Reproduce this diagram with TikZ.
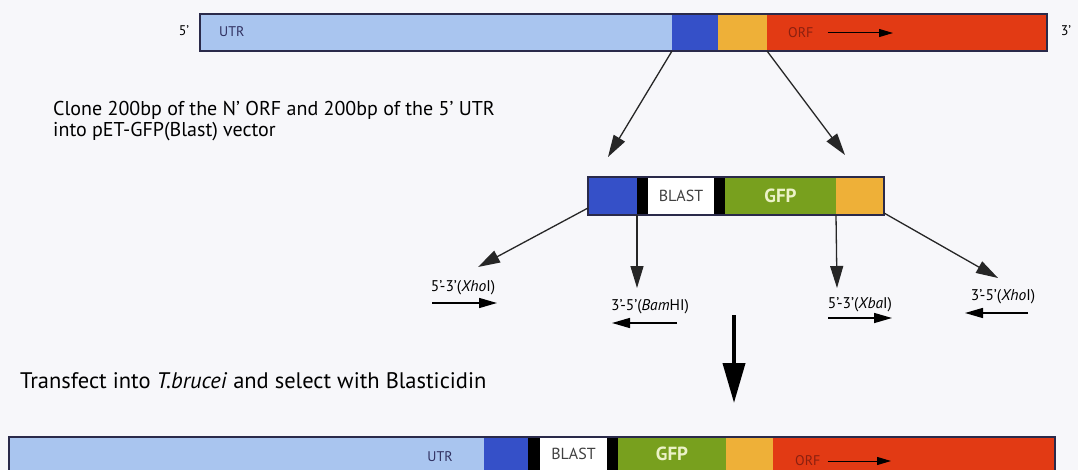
\documentclass[tikz,border=0pt]{standalone}
\usepackage{fontspec}
\setmainfont{PT Sans}
\usetikzlibrary{arrows.meta,calc}
\definecolor{bgc}{HTML}{F7F7FA}
\definecolor{lb}{HTML}{A9C5EF}
\definecolor{db}{HTML}{3550C8}
\definecolor{org}{HTML}{EEB038}
\definecolor{rd}{HTML}{E23A14}
\definecolor{grn}{HTML}{78A01E}
\definecolor{brd}{HTML}{2A2A4A}
\definecolor{gfpt}{HTML}{ECF2C8}
\definecolor{navy}{HTML}{303060}
\definecolor{ornt}{HTML}{8A2010}
\begin{document}
\begin{tikzpicture}[x=1pt,y=-1pt,
  seg/.style={anchor=north west, inner sep=0pt, outer sep=0pt},
  barborder/.style={draw=brd, line width=1.2pt},
  lbl/.style={inner sep=0pt, font=\fontsize{14}{16}\selectfont},
  thinarrow/.style={line width=1.3pt, draw=black!85, -{Triangle[length=22pt,width=13pt]}},
  primer/.style={line width=1.5pt, -{Triangle[length=18pt,width=10pt]}},
  primerlbl/.style={inner sep=0pt, font=\fontsize{15.5}{18}\selectfont},
  bigarrow/.style={line width=4pt, -{Triangle[length=40pt,width=22pt]}},
  note/.style={inner sep=0pt, anchor=west, align=left}]
\useasboundingbox (0,0) rectangle (1078,470);
\fill[bgc] (0,0) rectangle (1078,470);

% ---------- top bar ----------
\node[seg, fill=lb,  minimum width=472pt, minimum height=37pt] (utrT) at (200,14) {};
\node[seg, fill=db,  minimum width=46pt,  minimum height=37pt] (blueT) at (672,14) {};
\node[seg, fill=org, minimum width=49pt,  minimum height=37pt] (orgT) at (718,14) {};
\node[seg, fill=rd,  minimum width=280pt, minimum height=37pt] (redT) at (767,14) {};
\draw[barborder] (utrT.north west) rectangle (redT.south east);
\node[lbl, text=navy, anchor=west] (utrTl) at (219,32) {UTR};
\node[lbl, text=ornt, anchor=west] (orfTl) at (788,33) {ORF};
\coordinate (orfTa) at (893,33);
\draw[line width=1pt, -{Triangle[length=14pt,width=8pt]}] (orfTl.east)++(14,0) -- (orfTa);
\node[lbl] (p5) at (184,31) {5'};
\node[lbl] (p3) at (1066,31) {3'};

% ---------- note 1 ----------
\node[note, font=\fontsize{20}{21}\selectfont] (note1) at (53,121) {Clone 200bp of the N' ORF and 200bp of the 5' UTR\\into pET-GFP(Blast) vector};

% ---------- middle construct ----------
\node[seg, fill=db,    minimum width=49pt,  minimum height=38pt] (blueM) at (588,177) {};
\node[seg, fill=black, minimum width=11pt,  minimum height=38pt] (k1M) at (637,177) {};
\node[seg, fill=white, minimum width=66pt,  minimum height=38pt, font=\fontsize{16}{18}\selectfont, text=black!75] (blastM) at (648,177) {BLAST};
\node[seg, fill=black, minimum width=11pt,  minimum height=38pt] (k2M) at (714,177) {};
\node[seg, fill=grn,   minimum width=111pt, minimum height=38pt, font=\bfseries\fontsize{19}{21}\selectfont, text=gfpt] (gfpM) at (725,177) {GFP};
\node[seg, fill=org,   minimum width=48pt,  minimum height=38pt] (orgM) at (836,177) {};
\draw[barborder] (blueM.north west) rectangle (orgM.south east);

% arrows from top bar to construct
\coordinate (a1e) at (608,157);
\coordinate (a2e) at (845,155);
\draw[thinarrow] (blueT.south west) -- (a1e);
\draw[thinarrow] (redT.south west) -- (a2e);

% arrows to primers
\coordinate (b1e) at (478,267);
\coordinate (b2e) at (637,288);
\coordinate (b3e) at (837,288);
\coordinate (b4e) at (998,278);
\draw[thinarrow] ($(blueM.south west)+(0,-7)$) -- (b1e);
\draw[thinarrow] (blueM.south east) -- (b2e);
\draw[thinarrow] (gfpM.south east) -- (b3e);
\draw[thinarrow] ($(orgM.south east)+(0,-2)$) -- (b4e);

% primers
\node[primerlbl] (pr1) at (463,288) {5'-3'(\textit{Xho}I)};
\coordinate (pr1s) at (432,303); \coordinate (pr1e) at (497,303);
\draw[primer] (pr1s) -- (pr1e);
\node[primerlbl] (pr2) at (650,307) {3'-5'(\textit{Bam}HI)};
\coordinate (pr2s) at (677,323); \coordinate (pr2e) at (612,323);
\draw[primer] (pr2s) -- (pr2e);
\node[primerlbl] (pr3) at (860,305) {5'-3'(\textit{Xba}I)};
\coordinate (pr3s) at (828,318); \coordinate (pr3e) at (892,318);
\draw[primer] (pr3s) -- (pr3e);
\node[primerlbl] (pr4) at (1003,297) {3'-5'(\textit{Xho}I)};
\coordinate (pr4s) at (1028,313); \coordinate (pr4e) at (965,313);
\draw[primer] (pr4s) -- (pr4e);

% big arrow
\coordinate (bas) at (734,315);
\coordinate (bae) at (734,403);
\draw[bigarrow] (bas) -- (bae);

% ---------- note 2 ----------
\node[note, font=\fontsize{22.5}{24}\selectfont] (note2) at (20,381) {Transfect into \textit{T.brucei} and select with Blasticidin};

% ---------- bottom bar ----------
\node[seg, fill=lb,    minimum width=475pt, minimum height=33pt] (utrB) at (9,437) {};
\node[seg, fill=db,    minimum width=44pt,  minimum height=33pt] (blueB) at (484,437) {};
\node[seg, fill=black, minimum width=12pt,  minimum height=33pt] (k1B) at (528,437) {};
\node[seg, fill=white, minimum width=67pt,  minimum height=33pt, font=\fontsize{16}{18}\selectfont, text=black!75] (blastB) at (540,437) {BLAST};
\node[seg, fill=black, minimum width=11pt,  minimum height=33pt] (k2B) at (607,437) {};
\node[seg, fill=grn,   minimum width=108pt, minimum height=33pt, font=\bfseries\fontsize{19}{21}\selectfont, text=gfpt] (gfpB) at (618,437) {GFP};
\node[seg, fill=org,   minimum width=47pt,  minimum height=33pt] (orgB) at (726,437) {};
\node[seg, fill=rd,    minimum width=282pt, minimum height=33pt] (redB) at (773,437) {};
\draw[barborder] (utrB.south west) -- (utrB.north west) -- (redB.north east) -- (redB.south east);
\node[lbl, text=navy] (utrBl) at (440,457) {UTR};
\node[lbl, text=ornt, anchor=west] (orfBl) at (795,461) {ORF};
\coordinate (orfBa) at (891,461);
\draw[line width=1pt, -{Triangle[length=14pt,width=8pt]}] (orfBl.east)++(7,0) -- (orfBa);
\end{tikzpicture}
\end{document}
